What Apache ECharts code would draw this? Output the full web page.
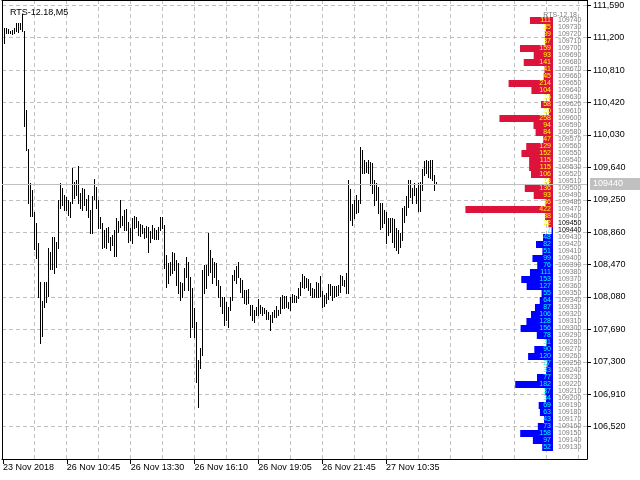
<!DOCTYPE html>
<html><head><meta charset="utf-8">
<script src="https://cdn.jsdelivr.net/npm/echarts@6/dist/echarts.min.js"></script>
<style>html,body{margin:0;padding:0;background:#fff}#c{width:640px;height:480px}</style>
</head><body><div id="c"></div>
<script>
// ---- data ----
const chartTitle = 'RTS-12.18,M5';
const profileTitle = 'RTS-12.18';
const timeLabels = ['23 Nov 2018','26 Nov 10:45','26 Nov 13:30','26 Nov 16:10','26 Nov 19:05','26 Nov 21:45','27 Nov 10:35'];
const timeLabelBars = [0,32,64,96,128,160,192];
const highs = [
111320,111320,111300,111280,111290,111320,111380,111380,111380,111490,
111280,110330,109860,109450,109370,109100,108970,108730,108260,108030,
108260,108260,108670,108620,108800,108800,108740,109250,109450,109390,
109310,109280,109250,109220,109630,109460,109490,109660,109330,109390,
109380,109260,109310,109130,109300,109500,109400,109250,109040,108970,
108890,108910,108920,108800,108830,108890,109030,108990,109250,109050,
109130,109140,108980,108910,109030,109050,109040,108990,108960,108950,
108910,108930,108920,108870,108950,108910,108890,108920,109040,109040,
108950,108590,108490,108500,108620,108610,108520,108490,108260,108250,
108430,108560,108500,108320,108190,107950,107780,107320,107470,108400,
108460,108460,108850,108650,108550,108500,108490,108280,108210,108080,
108080,108020,107960,108080,108340,108400,108450,108500,108310,108280,
108160,108160,108180,107980,107980,107920,107960,108060,107980,107960,
107950,107920,107900,107860,107900,107920,107970,107920,108080,108100,
108090,108090,108020,108080,108120,108100,108090,108190,108260,108360,
108330,108310,108300,108250,108190,108180,108260,108250,108330,108150,
108100,108130,108240,108240,108210,108210,108210,108220,108340,108330,
108280,108370,109490,109380,109200,109250,109310,109250,109880,109850,
109730,109700,109730,109700,109690,109490,109450,109400,109210,109210,
109130,109100,109030,109030,109030,109020,108910,108890,108850,109150,
109180,109300,109490,109490,109390,109450,109390,109450,109460,109620,
109720,109730,109720,109730,109730,109550,109460];
const lows = [
111140,111260,111260,111260,111250,111260,111280,111270,111300,111280,
110140,109850,109210,109050,109050,108660,108550,108080,107530,107610,
107960,108020,108090,108420,108420,108370,108440,108670,109150,109190,
109130,109130,109070,109040,109210,109270,109310,109210,109150,109130,
109190,109130,109040,108850,108850,109260,109150,108910,108910,108670,
108680,108670,108740,108650,108710,108570,108570,108860,108920,108950,
108890,108890,108740,108770,108730,108910,108920,108830,108810,108850,
108790,108800,108620,108740,108790,108780,108780,108780,108890,108910,
108430,108200,108250,108340,108370,108400,108220,108130,108040,108080,
108160,108320,108160,107600,107720,107600,107060,106760,107230,107380,
108130,108190,108340,108380,108250,108320,108220,108080,107970,107890,
107740,107800,107720,107920,108040,108280,108250,108320,108140,108080,
108010,108000,108010,107860,107800,107780,107860,107860,107890,107860,
107890,107820,107820,107680,107780,107840,107840,107860,107890,107950,
107950,107960,107950,107920,108020,108020,108020,108070,108100,108200,
108190,108200,108160,108100,108080,108080,108080,108080,108090,107960,
107970,108010,108060,108100,108040,108080,108090,108100,108140,108220,
108210,108130,108130,109010,108950,109030,109090,109100,109210,109570,
109570,109580,109570,109430,109330,109190,109250,109090,108900,108920,
108970,108730,108830,108860,108740,108680,108650,108610,108680,108770,
108980,109070,109160,109280,109210,109310,109210,109120,109120,109370,
109550,109570,109520,109510,109490,109370,109440];
const lastPrice = 109440;
const priceTicks = {min:106130, max:111654, step:390};
const profileLevels = [
109740,109730,109720,109710,109700,109690,109680,109670,109660,109650,
109640,109630,109620,109610,109600,109590,109580,109570,109560,109550,
109540,109530,109520,109510,109500,109490,109480,109470,109460,109450,
109440,109430,109420,109410,109400,109390,109380,109370,109360,109350,
109340,109330,109320,109310,109300,109290,109280,109270,109260,109250,
109240,109230,109220,109210,109200,109190,109180,109170,109160,109150,
109140,109130];
const profileVolumes = [
111,35,39,37,159,93,141,41,45,214,
104,16,58,20,258,94,84,47,129,152,
115,115,106,18,136,93,36,422,38,22,
7,48,82,51,99,76,111,153,127,55,
64,87,106,128,156,78,31,90,120,27,
33,77,182,37,34,69,63,43,73,158,
97,52];
const profileSplitLevel = 109450;   // levels at or above: sell side (red)
const profileMarkedLevels = [109450, 109440];

// ---- chart ----
const FONT = 'Liberation Sans, Arial, sans-serif';
const RED = '#dc143c', BLUE = '#0000ff', GRID = '#c0c0c0';
const chart = echarts.init(document.getElementById('c'), null, {renderer:'canvas'});

const barData = highs.map((h, i) => [i + 1, lows[i], h]);
const profData = profileVolumes.map((v, i) => {
  const up = profileLevels[i] >= profileSplitLevel;
  return {value: v, itemStyle: {color: up ? RED : BLUE}, label: {color: up ? '#ffff00' : '#00ffff'}};
});
const profCats = profileLevels.map(l => ({
  value: String(l),
  textStyle: {color: profileMarkedLevels.indexOf(l) >= 0 ? '#000' : '#808080'}
}));

const option = {
  animation: false,
  backgroundColor: '#fff',
  textStyle: {fontFamily: FONT},
  title: [
    {text: chartTitle, left: 5, top: 3, textStyle: {fontSize: 9, fontWeight: 'normal', color: '#000', fontFamily: FONT}},
    {text: profileTitle, right: 58, top: 7, textStyle: {fontSize: 7, fontWeight: 'normal', color: '#808080', fontFamily: FONT}}
  ],
  grid: [
    {left: 2, top: 0, width: 585, height: 459},
    {left: 443, width: 110, top: 17, height: 434},
    {left: 2, top: 0, width: 384, height: 459}
  ],
  xAxis: [
    {gridIndex: 0, type: 'value', min: 0, max: 292.5, interval: 16, position: 'bottom',
     axisLine: {show: true, onZero: false, lineStyle: {color: '#000', width: 1}},
     axisTick: {show: false}, axisLabel: {show: false},
     splitLine: {show: true, lineStyle: {color: GRID, type: [4, 3], width: 1}}},
    {gridIndex: 0, type: 'value', min: 0, max: 292.5, position: 'top',
     axisLine: {show: true, onZero: false, lineStyle: {color: '#000', width: 1}},
     axisTick: {show: false}, axisLabel: {show: false}, splitLine: {show: false}},
    {gridIndex: 1, type: 'value', min: 0, max: 530, inverse: true, show: false},
    {gridIndex: 2, type: 'value', min: 0, max: 192, interval: 32, position: 'bottom',
     axisLine: {show: false, onZero: false},
     axisTick: {show: true, length: 5, lineStyle: {color: '#000'}},
     axisLabel: {show: true, align: 'left', margin: 4, fontSize: 9, color: '#000', fontFamily: FONT,
       formatter: v => { const k = timeLabelBars.indexOf(v); return k >= 0 ? timeLabels[k] : ''; }},
     splitLine: {show: false}}
  ],
  yAxis: [
    {gridIndex: 0, type: 'value', position: 'right', min: priceTicks.min, max: priceTicks.max, interval: priceTicks.step,
     axisLine: {show: true, onZero: false, lineStyle: {color: '#000', width: 1}},
     axisTick: {show: true, length: 4, lineStyle: {color: '#000'}},
     axisLabel: {show: true, margin: 6, fontSize: 9, color: '#000', fontFamily: FONT, showMinLabel: false, showMaxLabel: false},
     splitLine: {show: true, lineStyle: {color: GRID, type: [4, 3], width: 1}}},
    {gridIndex: 0, type: 'value', position: 'left', min: priceTicks.min, max: priceTicks.max,
     axisLine: {show: true, onZero: false, lineStyle: {color: '#000', width: 1}},
     axisTick: {show: false}, axisLabel: {show: false}, splitLine: {show: false}},
    {gridIndex: 1, type: 'category', inverse: true, position: 'right', data: profCats,
     axisLine: {show: false}, axisTick: {show: false},
     axisLabel: {show: true, margin: 5, fontSize: 7, fontFamily: FONT, interval: 0},
     splitLine: {show: false}},
    {gridIndex: 2, type: 'value', show: false, min: 0, max: 1}
  ],
  series: [
    {
      type: 'custom', xAxisIndex: 0, yAxisIndex: 0, data: barData,
      encode: {x: 0, y: [1, 2]},
      renderItem: function (params, api) {
        const x = api.value(0), lo = api.value(1), hi = api.value(2);
        const a = api.coord([x, hi]), b = api.coord([x, lo]);
        const px = Math.round(a[0]) + 0.5;
        return {type: 'line', shape: {x1: px, y1: Math.round(a[1]), x2: px, y2: Math.round(b[1]) + 1},
                style: {stroke: '#000', lineWidth: 1}};
      },
      markLine: {
        silent: true, symbol: ['none', 'none'], animation: false,
        lineStyle: {color: GRID, type: 'solid', width: 1},
        label: {show: true, position: 'end', distance: 3, formatter: String(lastPrice),
                color: '#fff', backgroundColor: GRID, padding: [2, 17, 1, 3], fontSize: 9, fontFamily: FONT},
        data: [{yAxis: lastPrice}]
      },
      z: 3
    },
    {
      type: 'bar', xAxisIndex: 2, yAxisIndex: 2, data: profData,
      barCategoryGap: '0%',
      label: {show: true, position: 'insideRight', distance: 2, fontSize: 7, fontFamily: FONT,
              formatter: p => String(p.value)},
      z: 2
    }
  ]
};
chart.setOption(option);
</script>
</body></html>
